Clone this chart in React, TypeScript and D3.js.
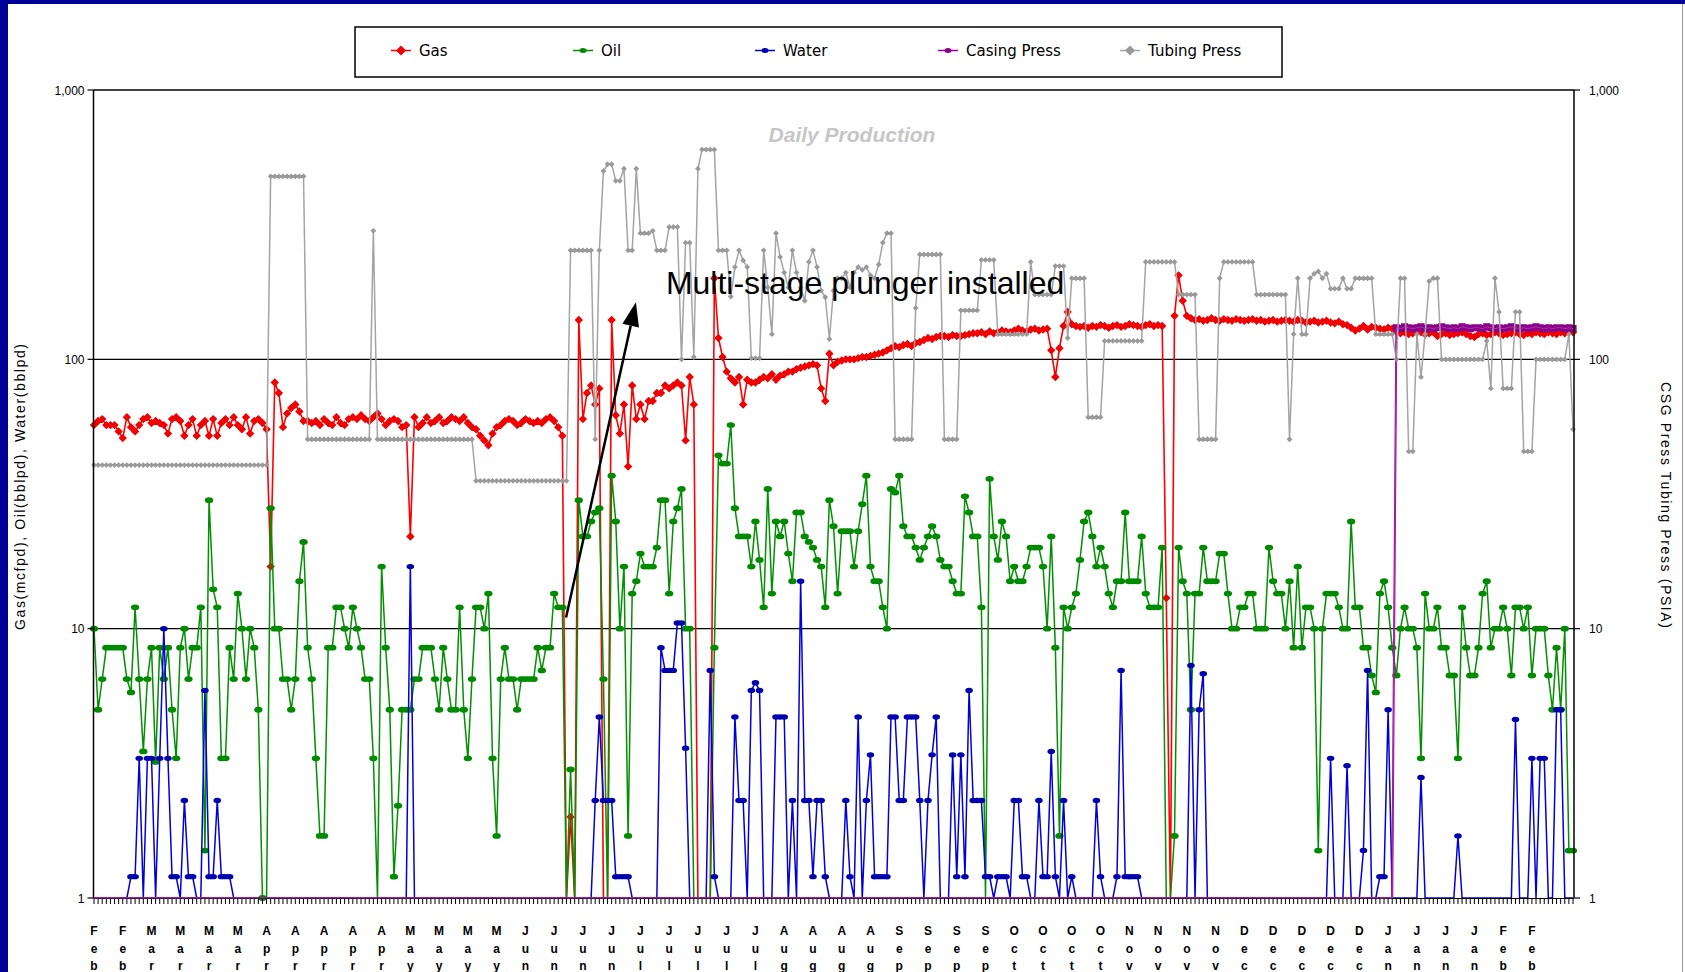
import React, { useEffect } from "react";
import * as d3 from "d3";

// ---------- DATA ----------
const weekMonths = [
  "Feb","Feb","Mar","Mar","Mar","Mar","Apr","Apr","Apr","Apr","Apr",
  "May","May","May","May","Jun","Jun","Jun","Jun","Jul","Jul","Jul","Jul","Jul",
  "Aug","Aug","Aug","Aug","Sep","Sep","Sep","Sep","Oct","Oct","Oct","Oct",
  "Nov","Nov","Nov","Nov","Dec","Dec","Dec","Dec","Dec","Jan","Jan","Jan","Jan","Feb","Feb"
];
const yTicks = [1, 10, 100, 1000];
const yTickLabels = ["1", "10", "100", "1,000"];

const gasDaily = [
  57,59,60,57,57,57,54,51,61,56,
  54,57,60,61,58,59,58,57,53,60,
  61,59,52,57,60,52,57,59,52,60,
  52,58,60,57,61,57,55,61,53,59,
  60,58,55,17,82,75,56,63,66,68,
  64,59,59,58,59,57,60,58,57,61,
  58,57,60,61,60,62,60,59,61,63,
  60,57,59,60,59,56,57,22,61,56,
  58,61,58,59,61,58,59,61,60,59,
  61,58,56,55,52,50,48,53,56,57,
  59,60,59,57,58,60,59,58,59,58,
  60,61,59,56,52,0,2,0,140,60,
  75,80,68,78,0,0,140,62,53,68,
  40,80,60,68,60,70,70,75,75,80,
  78,80,82,80,50,86,68,0,0,0,
  0,200,120,102,90,85,82,86,68,84,
  82,82,84,86,85,88,84,87,88,90,
  90,92,93,94,95,96,95,78,70,105,
  95,98,99,100,100,100,101,102,102,103,
  104,105,106,108,110,112,111,113,114,112,
  115,116,118,120,119,121,122,122,121,123,
  122,122,123,124,125,125,126,124,127,125,
  126,128,127,126,128,130,128,127,129,130,
  128,129,130,108,86,110,133,150,135,133,
  132,133,131,133,132,134,133,131,133,134,
  132,133,135,134,133,132,134,135,133,134,
  133,13,0,145,205,165,145,142,140,141,
  139,140,142,140,139,141,140,139,141,140,
  139,140,141,139,140,138,139,140,138,139,
  140,139,138,140,139,137,138,139,137,138,
  139,137,136,138,135,134,131,128,130,133,
  129,132,131,130,129,131,130,127,125,126,
  124,125,127,126,124,125,126,122,124,125,
  123,124,125,126,124,122,121,124,125,123,
  124,126,125,123,124,125,126,124,123,125,
  124,126,125,124,126,125,124,126,125,127,
  126
];

const oilDaily = [
  10,5,6.5,8.5,8.5,8.5,8.5,8.5,6.5,5.8,
  12,6.5,3.5,6.5,8.5,3.2,8.5,6.5,8.5,5,
  3.3,8.5,10,6.5,8.5,8.5,12,1.5,30,14,
  12,3.3,3.3,8.5,6.5,13.5,10,6.5,10,8.5,
  5,1,0,28,10,10,6.5,6.5,5,6.5,
  15,21,8.5,6.5,3.3,1.7,1.7,8.5,8.5,12,
  12,10,8.5,12,10,8.5,6.5,6.5,3.3,0,
  17,8.5,5,1.2,2.2,5,5,5,6.5,6.5,
  8.5,8.5,8.5,6.5,5,8.5,6.5,5,5,12,
  5,3.3,6.5,12,12,10,13.5,3.3,1.7,6.5,
  8.5,6.5,6.5,5,6.5,6.5,6.5,6.5,8.5,7,
  8.5,8.5,13.5,12,12,0,3,0,30,22,
  22,25,27,28,6.5,0,37,25,10,17,
  1.7,13.5,15,19,17,17,17,20,30,30,
  13.5,25,28,33,10,10,0,0,0,0,
  0,8.5,44,41,41,57,28,22,22,22,
  17,25,18,12,33,13.5,25,22,25,19,
  15,27,27,22,21,20,18,17,12,30,
  24,13.5,23,23,23,17,23,29,37,17,
  15,15,12,10,33,32,37,24,22,22,
  20,18,20,22,24,22,18,17,17,15,
  13.5,13.5,31,27,22,22,12,0,36,22,
  18,25,22,15,17,15,15,17,20,20,
  20,17,10,22,8.5,1.7,12,10,12,13.5,
  18,25,27,22,17,20,17,13.5,12,15,
  15,27,15,15,15,22,13.5,12,12,12,
  20,0,0,1.7,20,15,13.5,5,13.5,13.5,
  20,15,15,15,19,19,13.5,10,10,12,
  12,13.5,13.5,10,10,10,20,15,13.5,13.5,
  10,15,8.5,17,8.5,12,12,10,1.5,10,
  13.5,13.5,13.5,12,10,10,25,12,12,8.5,
  8.5,6.7,5.8,13.5,15,12,8.5,6.7,10,12,
  10,10,8.5,3.3,13.5,10,10,12,8.5,8.5,
  6.7,6.7,3.3,12,8.5,6.7,6.7,8.5,13.5,15,
  8.5,10,10,12,10,6.7,12,12,10,12,
  6.7,10,10,10,6.7,5,8.5,5,10,1.5,
  1.5
];

const waterDaily = [
  0,0,0,0,0,0,0,0,0,1.2,
  1.2,3.3,0,3.3,3.3,0,3.3,10,3.3,1.2,
  1.2,0,2.3,1.2,1.2,0,0,5.9,1.2,1.2,
  2.3,1.2,1.2,1.2,0,0,0,0,0,0,
  0,0,0,0,0,0,0,0,0,0,
  0,0,0,0,0,0,0,0,0,0,
  0,0,0,0,0,0,0,0,0,0,
  0,0,0,0,0,0,0,17,0,0,
  0,0,0,0,0,0,0,0,0,0,
  0,0,0,0,0,0,0,0,0,0,
  0,0,0,0,0,0,0,0,0,0,
  0,0,0,0,0,0,0,0,0,0,
  0,0,2.3,4.7,2.3,2.3,2.3,1.2,1.2,1.2,
  1.2,0,0,0,0,0,0,0,8.5,7,
  7,7,10.5,10.5,3.6,0,0,0,0,0,
  7,1.2,0,0,0,0,4.7,2.3,2.3,0,
  5.9,6.3,5.9,0,0,0,4.7,4.7,4.7,0,
  2.3,0,15,2.3,2.3,1.2,2.3,2.3,1.2,0,
  0,0,0,2.3,1.2,0,4.7,0,2.3,3.4,
  1.2,1.2,1.2,1.2,4.7,4.7,2.3,2.3,4.7,4.7,
  4.7,2.3,0,2.3,3.4,4.7,0,0,0,3.4,
  1.2,3.4,1.2,5.9,2.3,2.3,2.3,1.2,1.2,0,
  1.2,1.2,1.2,0,2.3,2.3,1.2,1.2,0,0,
  2.3,1.2,1.2,3.5,1.2,0,2.3,0,1.2,0,
  0,0,0,0,2.3,1.2,0,0,0,1.2,
  7,1.2,1.2,1.2,1.2,0,0,0,0,0,
  0,0,0,0,0,0,0,7.3,0,5,
  6.8,0,0,0,0,0,0,0,0,0,
  0,0,0,0,0,0,0,0,0,0,
  0,0,0,0,0,0,0,0,0,0,
  0,3.3,0,0,0,3.1,0,0,0,1.5,
  7,0,0,1.2,1.2,5,0,0,0,0,
  0,0,0,2.8,0,0,0,0,0,0,
  0,0,1.7,0,0,0,0,0,0,0,
  0,0,0,0,0,0,4.6,0,0,0,
  3.3,0,3.3,3.3,0,0,5,5,0,0,
  0
];

// tubing pressure held at a value for a number of days: [psia, days]
const tubingRuns = [
  [40.5,43],[478,9],[50.5,16],[300,1],[50.5,24],[35.4,23],[254,6],[50.5,1],[254,1],[500,1],
  [530,2],[460,2],[510,1],[254,2],[510,1],[294,3],[300,1],[254,3],[310,3],[100,1],
  [271,2],[102,1],[510,1],[601,4],[254,3],[171,1],[220,1],[254,1],[233,1],[220,1],
  [101,3],[254,1],[185,1],[124,1],[294,1],[240,1],[210,1],[185,1],[254,1],[210,1],
  [185,1],[165,1],[230,1],[254,1],[220,1],[180,1],[170,1],[119,1],[180,1],[200,2],
  [210,1],[185,1],[210,1],[220,1],[215,1],[220,1],[205,1],[200,1],[225,1],[271,1],
  [294,2],[50.5,5],[155,1],[245,6],[50.5,4],[152,5],[234,4],[124,8],[230,1],[174,5],
  [222,3],[120,1],[200,4],[61,4],[117,10],[230,8],[174,5],[50.5,5],[200,1],[230,8],
  [174,8],[50.5,1],[124,1],[200,1],[124,2],[200,1],[208,1],[212,1],[200,1],[208,1],
  [183,3],[200,1],[183,2],[200,5],[124,5],[100,1],[200,2],[45.5,2],[124,1],[86,1],
  [124,1],[195,1],[200,2],[100,11],[117,1],[78,1],[200,1],[150,1],[78,3],[150,2],
  [45.5,3],[100,8],[124,1],[55,1]
];

const casingRuns = [[0, 317]];
const casingTail = [
  131,130,132,131,130,131,132,130,131,130,
  131,132,131,130,131,130,132,131,130,131,
  131,130,132,131,130,131,130,131,132,131,
  130,131,130,131,132,131,130,131,130,131,
  131,130,131,130
];

const seriesNames = ["Gas", "Oil", "Water", "Casing Press", "Tubing Press"];
const seriesColors = ["#ff0000", "#009000", "#0000d8", "#990099", "#a4a4a4"];
const markerColors = ["#f00000", "#008a00", "#0000b0", "#8a008a", "#9a9a9a"];

const annotation = {
  text: "Multi-stage plunger installed",
  textDay: 139.2, textValue: 175,
  fromDay: 114.9, fromValue: 11,
  toDay: 131.9, toValue: 163
};

function expandRuns(runs: number[][]): number[] {
  const out: number[] = [];
  runs.forEach(([v, n]) => { for (let i = 0; i < n; i++) out.push(v); });
  return out;
}

export default function App() {
  useEffect(() => { document.body.style.margin = "0"; }, []);
  const W = 1685, H = 972;
  const x = d3.scaleLinear().domain([0, 360]).range([94, 1573]);
  const y = d3.scaleLog().domain([1, 1000]).range([898, 90]);
  const yv = (v: number) => y(Math.max(1, v));
  const tubing = expandRuns(tubingRuns);
  const casing = expandRuns(casingRuns).concat(casingTail);
  const series = [gasDaily, oilDaily, waterDaily, casing, tubing];

  const lineGen = d3.line<number>().x((_, i) => x(i)).y((v) => yv(v));

  const diamonds = (vals: number[], r: number) =>
    vals.map((v, i) => v > 0 ? `M${x(i)},${yv(v) - r}l${r},${r}l${-r},${r}l${-r},${-r}z` : "").join("");
  const ellipses = (vals: number[], rx: number, ry: number) =>
    vals.map((v, i) => v > 0 ? `M${x(i) - rx},${yv(v)}a${rx},${ry} 0 1,0 ${2 * rx},0a${rx},${ry} 0 1,0 ${-2 * rx},0z` : "").join("");
  const squares = (vals: number[], r: number) =>
    vals.map((v, i) => v > 0 ? `M${x(i) - r},${yv(v) - r}h${2 * r}v${2 * r}h${-2 * r}z` : "").join("");

  const markerPaths = [
    diamonds(gasDaily, 4.2),
    ellipses(oilDaily, 4.2, 2.9),
    ellipses(waterDaily, 3.8, 2.7),
    squares(casing, 3.6),
    diamonds(tubing, 2.9),
  ];
  const lineWidths = [1.6, 1.5, 1.5, 2, 1.5];

  const plotL = 93.5, plotR = 1574, plotT = y(1000), plotB = y(1);
  const days = d3.range(0, 361);

  // annotation arrow
  const ax1 = x(annotation.fromDay), ay1 = y(annotation.fromValue);
  const ax2 = x(annotation.toDay), ay2 = y(annotation.toValue);
  const len = Math.hypot(ax2 - ax1, ay2 - ay1);
  const ux = (ax2 - ax1) / len, uy = (ay2 - ay1) / len;
  const hl = 24, hw = 8.5;
  const bx = ax2 - ux * hl, by = ay2 - uy * hl;
  const head = `M${ax2},${ay2}L${bx - uy * hw},${by + ux * hw}L${bx + uy * hw},${by - ux * hw}Z`;

  const legendX = [401, 583, 765, 948, 1130];
  const legendY = 50.5;

  return (
    <svg width={W} height={H} style={{ position: "absolute", left: 0, top: 0, display: "block" }}
      fontFamily="'Liberation Sans', Arial, sans-serif">
      <rect x={0} y={0} width={W} height={H} fill="#ffffff" />
      <rect x={0} y={0} width={W} height={4} fill="#000096" />
      <rect x={0} y={0} width={8} height={H} fill="#000096" />
      <line x1={1682.5} y1={4} x2={1682.5} y2={H} stroke="#9a9a9a" strokeWidth={1} />

      {/* legend */}
      <rect x={355} y={27} width={927} height={50} fill="#fff" stroke="#000" strokeWidth={1.5} />
      {seriesNames.map((n, k) => {
        const cx = legendX[k];
        const r = 5;
        let m;
        if (k === 0 || k === 4) m = <path d={`M${cx},${legendY - r}l${r},${r}l${-r},${r}l${-r},${-r}z`} fill={markerColors[k]} />;
        else m = <ellipse cx={cx} cy={legendY} rx={3.5} ry={2.5} fill={markerColors[k]} />;
        return (
          <g key={n}>
            <line x1={cx - 10} y1={legendY} x2={cx + 10} y2={legendY} stroke={seriesColors[k]} strokeWidth={1.5} />
            {m}
            <text x={cx + 18} y={legendY + 5.5} fontSize={15} fontFamily="'DejaVu Sans', sans-serif" fill="#000">{n}</text>
          </g>
        );
      })}

      {/* title */}
      <text x={852} y={142} textAnchor="middle" fontSize={21} fontWeight="bold" fontStyle="italic" fill="#c6c6c6">Daily Production</text>

      {/* grid lines */}
      {[10, 100].map((v) => (
        <line key={v} x1={plotL} x2={plotR} y1={y(v)} y2={y(v)} stroke="#000" strokeWidth={1.2} />
      ))}

      {/* series */}
      {series.map((vals, k) => (
        <g key={k}>
          <path d={lineGen(vals) || ""} fill="none" stroke={seriesColors[k]} strokeWidth={lineWidths[k]} strokeLinejoin="round" />
          <path d={markerPaths[k]} fill={markerColors[k]} />
        </g>
      ))}

      {/* frame */}
      <line x1={plotL} x2={plotR} y1={plotT} y2={plotT} stroke="#000" strokeWidth={1.5} />
      <line x1={plotL} x2={plotL} y1={plotT} y2={plotB} stroke="#000" strokeWidth={1.5} />
      <line x1={plotR} x2={plotR} y1={plotT} y2={plotB} stroke="#000" strokeWidth={1.5} />
      <line x1={plotL} x2={plotR} y1={plotB + 0.5} y2={plotB + 0.5} stroke="#000" strokeWidth={1} />
      {/* casing zero run drawn over the axis */}
      <path d={lineGen(casing) || ""} fill="none" stroke="#b040b0" strokeWidth={1} opacity={0.8} />

      {/* daily ticks */}
      <path d={days.map((d) => `M${x(d)},${plotB + 1}v5`).join("")} stroke="#000" strokeWidth={1} />

      {/* y ticks */}
      {yTicks.map((v, i) => (
        <g key={v}>
          <line x1={plotL - 6} x2={plotL} y1={y(v)} y2={y(v)} stroke="#000" strokeWidth={1.2} />
          <line x1={plotR} x2={plotR + 6} y1={y(v)} y2={y(v)} stroke="#000" strokeWidth={1.2} />
          <text x={plotL - 9} y={y(v) + 4.5} textAnchor="end" fontSize={12} fill="#000">{yTickLabels[i]}</text>
          <text x={plotR + 15} y={y(v) + 4.5} textAnchor="start" fontSize={12} fill="#000">{yTickLabels[i]}</text>
        </g>
      ))}

      {/* x labels: stacked letters */}
      {weekMonths.map((m, i) => (
        <text key={i} x={x(i * 7)} textAnchor="middle" fontSize={12} fontWeight="bold" fill="#000">
          {m.split("").map((ch, j) => (
            <tspan key={j} x={x(i * 7)} y={935 + j * 17.5}>{ch}</tspan>
          ))}
        </text>
      ))}

      {/* axis titles */}
      <text transform="translate(25,487) rotate(-90)" textAnchor="middle" fontSize={14}
        textLength={286} lengthAdjust="spacing" fill="#000">Gas(mcfpd), Oil(bblpd), Water(bblpd)</text>
      <text transform="translate(1661,505) rotate(90)" textAnchor="middle" fontSize={14}
        textLength={246} lengthAdjust="spacing" fill="#000">CSG Press Tubing Press  (PSIA)</text>

      {/* annotation */}
      <text x={x(annotation.textDay)} y={y(annotation.textValue)} fontSize={32} fill="#000">{annotation.text}</text>
      <line x1={ax1} y1={ay1} x2={bx} y2={by} stroke="#000" strokeWidth={2.5} />
      <path d={head} fill="#000" />
    </svg>
  );
}
